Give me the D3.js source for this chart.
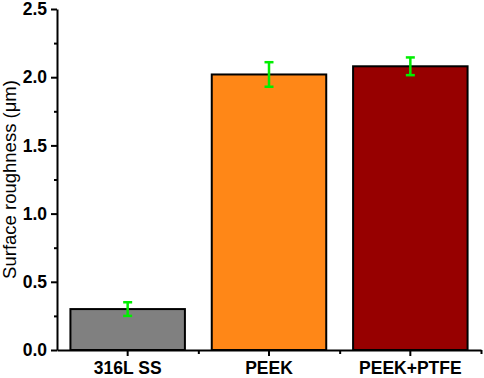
<!DOCTYPE html>
<html>
<head>
<meta charset="utf-8">
<script src="https://cdn.jsdelivr.net/npm/d3@7"></script>
<style>
  html, body { margin: 0; padding: 0; background: #fff; }
  svg { display: block; font-family: "Liberation Sans", Arial, sans-serif; }
</style>
</head>
<body>
<script>
// data
const categories = ["316L SS", "PEEK", "PEEK+PTFE"];
const roughness = [0.30, 2.02, 2.08];
const roughnessErr = [0.05, 0.09, 0.065];
const barColors = ["#808080", "#FF8717", "#970000"];
const yTicks = [0, 0.5, 1.0, 1.5, 2.0, 2.5];
const yMinorTicks = [0.25, 0.75, 1.25, 1.75, 2.25];

const width = 484, height = 378;
const plot = {left: 57, right: 481, top: 9, bottom: 350};

const svg = d3.select("body").append("svg")
    .attr("width", width).attr("height", height);

const x = d3.scaleBand()
    .domain(categories)
    .range([plot.left, plot.right])
    .paddingInner(0.19)
    .paddingOuter(0.095);

// linear helper for the category boundaries (minor ticks)
const xEdge = d3.scaleLinear().domain([0, categories.length]).range([plot.left, plot.right]);

const y = d3.scaleLinear().domain([0, 2.5]).range([plot.bottom, plot.top]);

const data = categories.map((c, i) => ({name: c, value: roughness[i], err: roughnessErr[i], color: barColors[i]}));

// bars
svg.append("g").selectAll("rect")
    .data(data)
    .join("rect")
    .attr("x", d => x(d.name))
    .attr("y", d => y(d.value))
    .attr("width", x.bandwidth())
    .attr("height", d => y(0) - y(d.value))
    .attr("fill", d => d.color)
    .attr("stroke", "#000")
    .attr("stroke-width", 2);

// error bars
const eb = svg.append("g").attr("stroke", "#00EE00").attr("stroke-width", 2.5);
data.forEach(d => {
  const cx = x(d.name) + x.bandwidth() / 2;
  eb.append("line").attr("x1", cx).attr("x2", cx).attr("y1", y(d.value + d.err)).attr("y2", y(d.value - d.err));
  eb.append("line").attr("x1", cx - 4.5).attr("x2", cx + 4.5).attr("y1", y(d.value + d.err)).attr("y2", y(d.value + d.err));
  eb.append("line").attr("x1", cx - 4.5).attr("x2", cx + 4.5).attr("y1", y(d.value - d.err)).attr("y2", y(d.value - d.err));
});

// y axis
svg.append("g")
    .attr("transform", `translate(${plot.left},0)`)
    .call(d3.axisLeft(y).tickValues(yTicks).tickFormat(d3.format(".1f")).tickSize(6).tickSizeOuter(0).tickPadding(4));
svg.append("g")
    .attr("transform", `translate(${plot.left},0)`)
    .call(d3.axisLeft(y).tickValues(yMinorTicks).tickFormat("").tickSize(3))
    .call(g => g.select(".domain").remove());

// x axis
svg.append("g")
    .attr("transform", `translate(0,${plot.bottom})`)
    .call(d3.axisBottom(x).tickSize(6).tickSizeOuter(0).tickPadding(6));
svg.append("g")
    .attr("transform", `translate(0,${plot.bottom})`)
    .call(d3.axisBottom(xEdge).tickValues([1, 2, 3]).tickFormat("").tickSize(4))
    .call(g => g.select(".domain").remove());

svg.selectAll(".domain").attr("stroke", "#000").attr("stroke-width", 2);
svg.selectAll(".tick line").attr("stroke", "#000").attr("stroke-width", 2);
svg.selectAll(".tick text")
    .attr("fill", "#000")
    .style("font-family", "'Liberation Sans', Arial, sans-serif")
    .style("font-size", "17.5px")
    .style("font-weight", "bold");

// y axis title
svg.append("text")
    .attr("transform", `translate(16,${(plot.top + plot.bottom) / 2}) rotate(-90)`)
    .attr("text-anchor", "middle")
    .style("font-size", "18.5px")
    .attr("fill", "#000")
    .text("Surface roughness (μm)");
</script>
</body>
</html>
